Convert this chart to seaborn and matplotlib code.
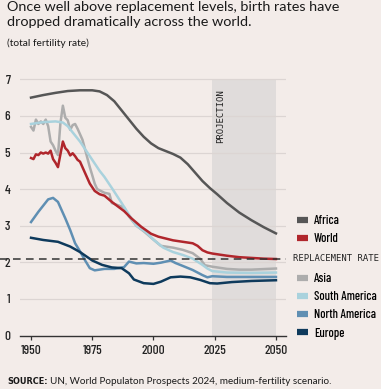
import pandas as pd
import matplotlib
matplotlib.use("Agg")
import matplotlib.pyplot as plt
import matplotlib.transforms as mtransforms
from matplotlib.lines import Line2D
import seaborn as sns

# total fertility rate
africa_years = [1950, 1955, 1960, 1965, 1970, 1975, 1978, 1981, 1984, 1987, 1990,
                1993, 1996, 1999, 2002, 2005, 2008, 2011, 2014, 2017, 2020, 2023,
                2026, 2030, 2035, 2040, 2045, 2050]
africa = [6.5, 6.57, 6.63, 6.68, 6.7, 6.7, 6.67, 6.57, 6.4, 6.15, 5.9,
          5.65, 5.43, 5.25, 5.12, 5.04, 4.96, 4.86, 4.68, 4.45, 4.22, 4.03,
          3.86, 3.62, 3.36, 3.15, 2.96, 2.79]

world_years = [1950, 1951, 1952, 1953, 1954, 1955, 1956, 1957, 1958, 1959, 1960,
               1961, 1962, 1963, 1964, 1965, 1966, 1967, 1968, 1969, 1970, 1971,
               1972, 1973, 1974, 1975, 1976, 1978, 1980, 1983, 1986, 1988, 1991,
               1995, 1999, 2002, 2005, 2008, 2012, 2016, 2018, 2020, 2022, 2024,
               2026, 2030, 2035, 2040, 2045, 2050]
world = [4.85, 4.82, 4.95, 4.93, 5.0, 4.97, 5.0, 4.97, 5.05, 4.82, 4.72,
         4.6, 4.95, 5.3, 5.12, 5.05, 4.92, 4.98, 4.9, 4.8, 4.75, 4.6,
         4.45, 4.3, 4.15, 4.05, 3.95, 3.86, 3.82, 3.65, 3.5, 3.4, 3.2,
         2.97, 2.78, 2.7, 2.65, 2.6, 2.56, 2.52, 2.45, 2.33, 2.27, 2.24,
         2.22, 2.18, 2.14, 2.12, 2.1, 2.09]

asia_years = [1950, 1951, 1952, 1953, 1954, 1955, 1956, 1957, 1958, 1959, 1960,
              1961, 1962, 1963, 1964, 1965, 1966, 1967, 1968, 1969, 1970, 1971,
              1972, 1973, 1974, 1975, 1976, 1977, 1980, 1982, 1983, 1988, 1990,
              1993, 1996, 2000, 2003, 2008, 2012, 2016, 2019, 2021, 2024, 2030,
              2035, 2040, 2050]
asia = [5.7, 5.6, 5.9, 5.78, 5.85, 5.78, 5.9, 5.72, 5.3, 5.2, 5.05,
        4.93, 5.8, 6.28, 5.95, 5.88, 5.62, 5.75, 5.78, 5.65, 5.5, 5.35,
        5.1, 4.85, 4.6, 4.38, 4.15, 4.0, 3.9, 3.87, 3.62, 3.5, 3.25,
        3.0, 2.85, 2.62, 2.45, 2.4, 2.34, 2.25, 2.1, 1.92, 1.88, 1.82,
        1.8, 1.8, 1.83]

south_america_years = [1950, 1955, 1960, 1963, 1965, 1967, 1970, 1972, 1975, 1978,
                       1980, 1983, 1987, 1990, 1993, 1997, 2000, 2004, 2008, 2012,
                       2016, 2020, 2022, 2024, 2030, 2040, 2050]
south_america = [5.78, 5.83, 5.85, 5.82, 5.72, 5.55, 5.3, 5.1, 4.8, 4.5,
                 4.33, 4.03, 3.62, 3.3, 3.0, 2.82, 2.62, 2.4, 2.28, 2.2,
                 2.1, 1.93, 1.83, 1.76, 1.72, 1.71, 1.72]

north_america_years = [1950, 1953, 1955, 1957, 1959, 1961, 1963, 1964, 1966, 1968,
                       1970, 1972, 1974, 1976, 1978, 1980, 1984, 1988, 1990, 1993,
                       1996, 2000, 2003, 2007, 2009, 2012, 2016, 2020, 2022, 2024,
                       2030, 2050]
north_america = [3.1, 3.38, 3.55, 3.72, 3.76, 3.65, 3.35, 3.2, 2.88, 2.52,
                 2.3, 2.06, 1.84, 1.78, 1.8, 1.82, 1.82, 1.87, 2.02, 1.97,
                 1.98, 1.96, 1.99, 2.05, 1.98, 1.9, 1.79, 1.65, 1.59, 1.62,
                 1.6, 1.6]

europe_years = [1950, 1955, 1961, 1966, 1970, 1975, 1979, 1983, 1987, 1990, 1992,
                1996, 2000, 2003, 2007, 2011, 2015, 2019, 2023, 2026, 2032, 2040,
                2050]
europe = [2.67, 2.61, 2.56, 2.43, 2.28, 2.05, 1.93, 1.86, 1.84, 1.7, 1.53,
          1.43, 1.41, 1.47, 1.59, 1.61, 1.59, 1.52, 1.43, 1.42, 1.46, 1.49,
          1.51]

replacement_rate = 2.1
projection_start, projection_end = 2024, 2050

colors = {
    "Asia": "#adadad",
    "South America": "#a9d2dd",
    "North America": "#5f8fb3",
    "Europe": "#0e3a5c",
    "World": "#b0262c",
    "Africa": "#565656",
}

series = {
    "Asia": (asia_years, asia),
    "South America": (south_america_years, south_america),
    "North America": (north_america_years, north_america),
    "Europe": (europe_years, europe),
    "World": (world_years, world),
    "Africa": (africa_years, africa),
}
df = pd.concat(
    [pd.DataFrame({"year": y, "tfr": v, "region": name}) for name, (y, v) in series.items()],
    ignore_index=True,
)

bg = "#f3ece9"
narrow = ["Barlow Condensed", "Archivo Narrow", "DejaVu Sans"]
sans = ["Lato", "DejaVu Sans"]
mono = ["DejaVu Sans Mono"]

fig = plt.figure(figsize=(3.81, 3.89), dpi=100, facecolor=bg)
ax = fig.add_axes([20 / 381, 53.5 / 389, 266 / 381, 263.5 / 389])
ax.set_facecolor(bg)

ax.axvspan(projection_start, projection_end, ymin=0, ymax=7 / 7.2, color="#e0dcdb", lw=0, zorder=0)
for yv in range(1, 8):
    ax.axhline(yv, color="#dcd5d3", lw=0.9, zorder=0.5)

sns.lineplot(data=df, x="year", y="tfr", hue="region", palette=colors,
             hue_order=list(series.keys()), estimator=None, sort=True,
             linewidth=1.8, legend=False, ax=ax, zorder=3)

# replacement rate dashed line, running out to the figure edge
trans = mtransforms.blended_transform_factory(ax.transAxes, ax.transData)
ax.plot([-20 / 266, 1], [replacement_rate, replacement_rate], transform=trans,
        color="#333333", lw=1.1, ls=(0, (5, 3.5)), clip_on=False, zorder=4)
ax.text(1.025, replacement_rate, "REPLACEMENT RATE", transform=trans, va="center",
        ha="left", fontsize=6.4, family=mono, color="#222222")
ax.text(2027.6, 6.74, "PROJECTION", rotation=90, va="top", ha="center",
        fontsize=6.5, family=mono, color="#222222")

ax.set_xlim(1945.5, 2054.1)
ax.set_ylim(0, 7.2)
ax.set_xticks([1950, 1975, 2000, 2025, 2050])
ax.set_yticks(range(0, 8))
ax.set_xlabel("")
ax.set_ylabel("")
for s in ["top", "right", "left"]:
    ax.spines[s].set_visible(False)
ax.spines["bottom"].set_color("#333333")
ax.spines["bottom"].set_linewidth(1.0)
ax.tick_params(axis="x", length=3, width=0.9, color="#333333", pad=4)
ax.tick_params(axis="y", length=0, pad=7)
for lab in ax.get_xticklabels() + ax.get_yticklabels():
    lab.set_family(narrow)
    lab.set_fontsize(9.5)
    lab.set_weight("medium")
    lab.set_color("#222222")

# legends (split around the replacement-rate label)
def handles(names):
    return [Line2D([0], [0], color=colors[n], lw=4.5, solid_capstyle="butt") for n in names]

leg_kw = dict(frameon=False, handlelength=0.85, handletextpad=0.5, labelspacing=0.5,
              borderpad=0, borderaxespad=0,
              prop={"family": narrow, "size": 9, "weight": "medium"})
top_names = ["Africa", "World"]
leg1 = ax.legend(handles(top_names), top_names, loc="upper left",
                 bbox_to_anchor=(297 / 381, 1 - 215 / 389), bbox_transform=fig.transFigure, **leg_kw)
ax.add_artist(leg1)
bottom_names = ["Asia", "South America", "North America", "Europe"]
ax.legend(handles(bottom_names), bottom_names, loc="upper left",
          bbox_to_anchor=(297 / 381, 1 - 273 / 389), bbox_transform=fig.transFigure, **leg_kw)

fig.text(7 / 381, 1 - 1 / 389, "Once well above replacement levels, birth rates have\ndropped dramatically across the world.",
         ha="left", va="top", fontsize=10.4, family=sans, color="#1a1a1a", linespacing=1.25)
fig.text(7 / 381, 1 - 38 / 389, "(total fertility rate)", ha="left", va="top", fontsize=7.4,
         family=sans, color="#1a1a1a")
src = fig.text(7 / 381, 1 - 377 / 389, "SOURCE:", ha="left", va="top", fontsize=6.6,
               family="DejaVu Sans", stretch="condensed", weight="bold", color="#1a1a1a")
renderer = fig.canvas.get_renderer()
x_after = src.get_window_extent(renderer).x1 + 2
fig.text(x_after / 381, 1 - 377 / 389, "UN, World Populaton Prospects 2024, medium-fertility scenario.",
         ha="left", va="top", fontsize=7.1, family=sans, color="#1a1a1a")

fig.savefig("out.png", dpi=100, facecolor=bg)
